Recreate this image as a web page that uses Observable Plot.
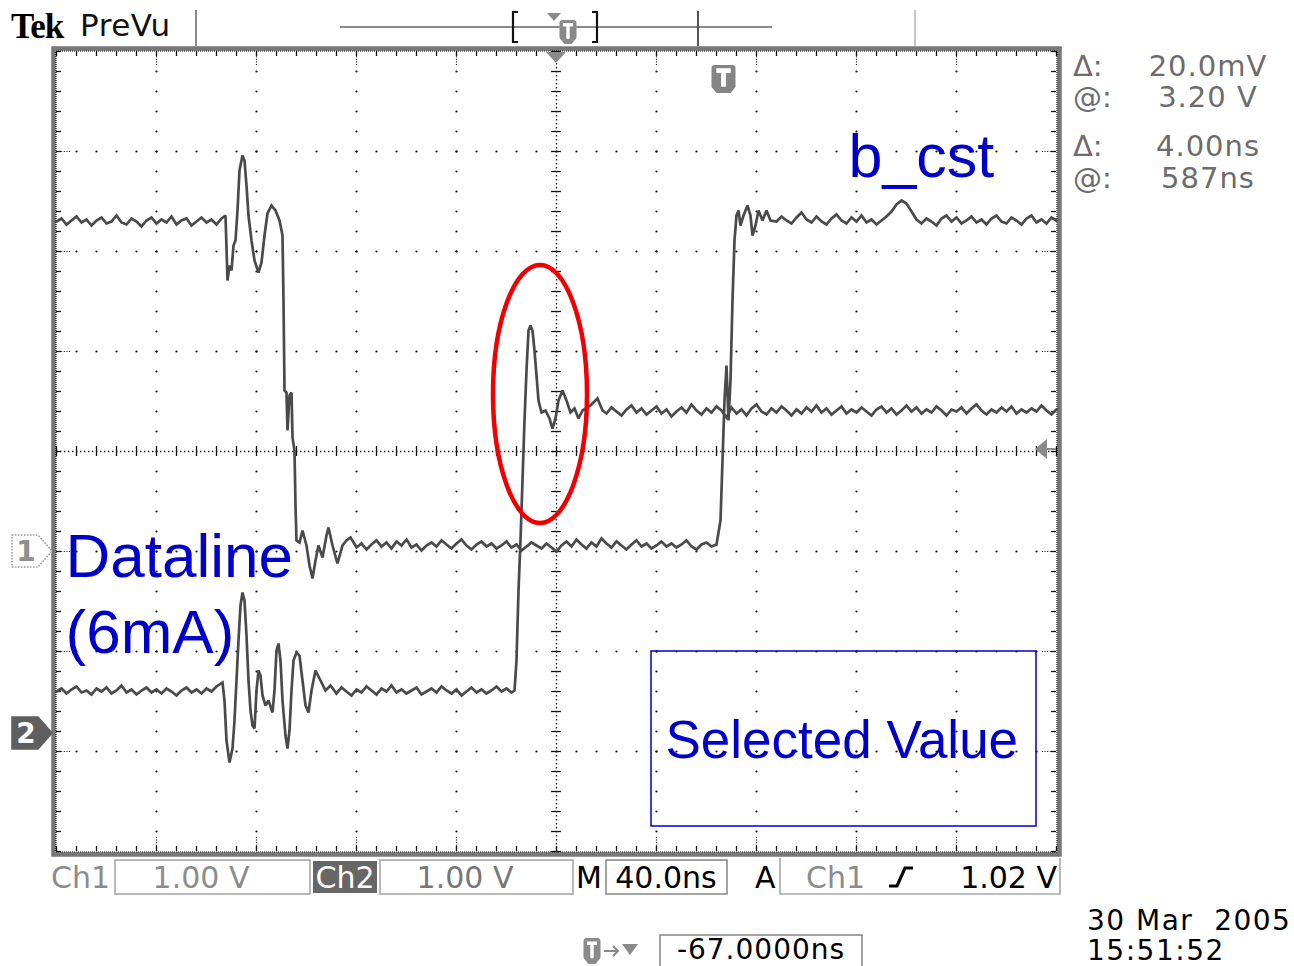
<!DOCTYPE html>
<html>
<head>
<meta charset="utf-8">
<script src="https://cdn.jsdelivr.net/npm/d3@7"></script>
<script src="https://cdn.jsdelivr.net/npm/@observablehq/plot@0.6"></script>
<style>
  html, body { margin: 0; padding: 0; background: #fff; overflow: hidden; }
  #scope { position: relative; width: 1294px; height: 966px; background: #fff; }
  #scope svg { position: absolute; left: 0; top: 0; }
</style>
</head>
<body>
<div id="scope"></div>
<script>
// ---- acquisition settings ----
const channels = ["Ch1", "Ch2"];
const voltsPerDiv = [1.00, 1.00];
const positionDiv = [-1.00, -2.82];      // ground marker offset from centre, in divisions
const timePerDivNs = 40;
const horizontalDivs = 10;
const verticalDivs = 8;
const triggerOffsetNs = -67.0;           // trigger point relative to screen centre
const triggerLevelV = 1.02;

// ---- readouts ----
const cursorReadouts = [["Δ:", "20.0mV"], ["@:", "3.20 V"], ["Δ:", "4.00ns"], ["@:", "587ns"]];
const scaleReadouts = ["1.00 V", "1.00 V", "40.0ns", "1.02 V"];
const timestamp = ["30 Mar  2005", "15:51:52"];

// ---- Ch1 trace (b_cst): [time ns, volts] ----
const ch1Trace = [
  [0,3.30],[2,3.33],[4,3.27],[6,3.31],[8,3.35],[10,3.29],[12,3.32],[14,3.26],[16,3.31],[18,3.34],
  [20,3.28],[22,3.30],[24,3.36],[26,3.29],[28,3.27],[30,3.33],[32,3.30],[34,3.25],[36,3.31],[38,3.34],
  [40,3.28],[42,3.32],[44,3.29],[46,3.35],[48,3.27],[50,3.31],[52,3.33],[54,3.26],[56,3.30],[58,3.34],
  [60,3.29],[62,3.32],[64,3.27],[66,3.33],
  [67.6,3.36],[68.4,2.71],[69.2,2.86],[70.0,2.81],[70.8,3.06],[71.6,3.11],[72.4,3.41],[73.2,3.81],
  [74.4,3.96],[75.2,3.91],[76.0,3.66],[76.8,3.36],[78.0,3.11],[79.2,2.91],[80.8,2.79],[82.0,2.89],
  [83.2,3.16],[84.4,3.38],[86.0,3.46],[87.6,3.41],[89.2,3.31],[90.4,3.16],[90.8,2.51],[91.2,1.61],
  [92.0,1.59],[92.4,1.21],[93.2,1.56],[94.0,1.59],[94.4,1.14],[95.2,1.01],[95.6,0.46],[96.0,0.11],
  [97.2,0.09],[98.4,0.21],[100.0,0.06],[101.2,-0.14],[102.4,-0.27],[103.6,-0.09],[104.8,0.06],
  [106.4,-0.06],[108.0,0.16],[108.8,0.24],[110.4,0.06],[112.4,-0.12],[114.4,0.06],[116.0,0.11],
  [117.6,0.14],[119.6,0.06],
  [120,0.04],[122,0.08],[124,0.02],[126,0.07],[128,0.11],[130,0.05],[132,0.09],[134,0.03],[136,0.10],
  [138,0.06],[140,0.12],[142,0.04],[144,0.07],[146,0.01],[148,0.06],[150,0.09],[152,0.05],[154,0.11],
  [156,0.07],[158,0.03],[160,0.08],[162,0.12],[164,0.06],[166,0.02],[168,0.07],[170,0.10],[172,0.05],
  [174,0.08],[176,0.03],[178,0.06],[180,0.10],[182,0.04],[184,0.07],[186,0.01],[188,0.05],[190,0.09],
  [192,0.06],[194,0.03],[196,0.08],[198,0.04],[200,0.00],[202,0.06],[204,0.10],[206,0.05],[208,0.12],
  [210,0.07],[212,0.03],[214,0.09],[216,0.05],[218,0.13],[220,0.08],[222,0.04],[224,0.10],[226,0.06],
  [228,0.02],[230,0.07],[232,0.11],[234,0.05],[236,0.08],[238,0.03],[240,0.06],[242,0.10],[244,0.05],
  [246,0.08],[248,0.04],[250,0.07],[252,0.11],[254,0.05],[256,0.02],[258,0.07],[260,0.09],[262,0.05],
  [264,0.07],
  [265.6,0.31],[266.4,0.91],[267.2,1.51],[268.0,1.86],[268.8,1.31],[269.6,1.71],[270.4,2.51],[271.2,3.11],
  [272.0,3.36],[272.8,3.41],[273.6,3.26],[274.8,3.36],[276.4,3.46],[277.6,3.36],[278.4,3.16],[279.6,3.26],
  [280.8,3.41],[282.4,3.31],[284.0,3.41],[285.6,3.31],
  [288,3.30],[290,3.35],[292,3.31],[294,3.28],[296,3.34],[298,3.39],[300,3.32],[302,3.29],[304,3.35],
  [306,3.30],[308,3.27],[310,3.33],[312,3.37],[314,3.31],[316,3.28],[318,3.34],[320,3.30],[322,3.36],
  [324,3.29],[326,3.32],[328,3.27],[330,3.31],[332,3.35],[334,3.40],[336,3.47],[338,3.51],[340,3.48],
  [342,3.40],[344,3.32],[346,3.28],[348,3.33],[350,3.30],[352,3.26],[354,3.33],[356,3.36],[358,3.30],
  [360,3.34],[362,3.28],[364,3.31],[366,3.35],[368,3.29],[370,3.32],[372,3.27],[374,3.33],[376,3.36],
  [378,3.30],[380,3.28],[382,3.34],[384,3.31],[386,3.27],[388,3.33],[390,3.36],[392,3.29],[394,3.32],
  [396,3.28],[398,3.34],[400,3.31]
];

// ---- Ch2 trace (Dataline, 6mA): [time ns, volts] ----
const ch2Trace = [
  [0,0.42],[2,0.45],[4,0.40],[6,0.44],[8,0.47],[10,0.41],[12,0.43],[14,0.39],[16,0.45],[18,0.42],
  [20,0.46],[22,0.40],[24,0.43],[26,0.48],[28,0.41],[30,0.44],[32,0.39],[34,0.43],[36,0.46],[38,0.41],
  [40,0.44],[42,0.40],[44,0.45],[46,0.42],[48,0.38],[50,0.43],[52,0.46],[54,0.41],[56,0.44],[58,0.40],
  [60,0.45],[62,0.42],[64,0.47],
  [66.4,0.51],[67.2,0.33],[68.0,-0.07],[69.2,-0.29],[70.4,-0.15],[71.2,0.13],[72.0,0.53],[72.8,0.93],
  [73.6,1.28],[74.4,1.41],[75.2,1.33],[76.0,0.98],[76.8,0.53],[77.6,0.23],[78.4,0.08],[79.2,0.05],
  [80.0,0.43],[80.8,0.63],[81.6,0.58],[82.4,0.38],[83.6,0.28],[84.8,0.33],[86.4,0.21],[87.2,0.43],
  [88.0,0.83],[88.8,0.90],[89.6,0.73],[90.4,0.33],[91.6,-0.02],[92.4,-0.15],[93.2,0.03],[94.0,0.43],
  [94.8,0.73],[96.0,0.81],[97.2,0.78],[98.4,0.53],[99.6,0.28],[100.8,0.21],[102.0,0.43],[103.6,0.63],
  [105.6,0.53],[107.6,0.43],[109.6,0.48],
  [112,0.40],[114,0.46],[116,0.42],[118,0.38],[120,0.44],[122,0.41],[124,0.47],[126,0.43],[128,0.39],
  [130,0.45],[132,0.42],[134,0.48],[136,0.41],[138,0.44],[140,0.40],[142,0.43],[144,0.46],[146,0.39],
  [148,0.42],[150,0.45],[152,0.41],[154,0.47],[156,0.43],[158,0.40],[160,0.44],[162,0.38],[164,0.42],
  [166,0.46],[168,0.41],[170,0.44],[172,0.40],[174,0.43],[176,0.47],[178,0.42],[180,0.45],[182,0.41],
  [183.2,0.43],[184.0,0.73],[184.8,1.43],[185.6,1.93],[186.4,2.53],[187.2,3.13],[188.0,3.63],[188.8,4.03],
  [189.6,4.08],[190.4,4.03],[191.2,3.83],[192.0,3.58],[192.8,3.33],[194.0,3.21],[195.6,3.23],[197.2,3.15],
  [198.4,3.05],[199.6,3.15],[200.8,3.33],[202.4,3.43],[204.0,3.33],[205.6,3.21],[207.2,3.25],[208.8,3.15],
  [210.4,3.23],[213.6,3.28],[216.4,3.35],[218.4,3.23],
  [220,3.20],[222,3.26],[224,3.22],[226,3.18],[228,3.24],[230,3.28],[232,3.21],[234,3.25],[236,3.19],
  [238,3.23],[240,3.27],[242,3.20],[244,3.24],[246,3.17],[248,3.22],[250,3.26],[252,3.21],[254,3.29],
  [256,3.23],[258,3.19],[260,3.25],[262,3.21],[264,3.27],[266,3.23],[268,3.16],[270,3.26],[272,3.20],
  [274,3.24],[276,3.18],[278,3.25],[280,3.29],[282,3.22],[284,3.19],[286,3.25],[288,3.21],[290,3.27],
  [292,3.23],[294,3.18],[296,3.24],[298,3.20],[300,3.26],[302,3.22],[304,3.28],[306,3.21],[308,3.25],
  [310,3.19],[312,3.23],[314,3.27],[316,3.20],[318,3.24],[320,3.21],[322,3.26],[324,3.22],[326,3.18],
  [328,3.24],[330,3.27],[332,3.21],[334,3.25],[336,3.19],[338,3.23],[340,3.28],[342,3.22],[344,3.26],
  [346,3.20],[348,3.24],[350,3.21],[352,3.27],[354,3.23],[356,3.18],[358,3.24],[360,3.22],[362,3.26],
  [364,3.20],[366,3.25],[368,3.29],[370,3.23],[372,3.19],[374,3.24],[376,3.21],[378,3.26],[380,3.22],
  [382,3.27],[384,3.20],[386,3.24],[388,3.21],[390,3.25],[392,3.22],[394,3.28],[396,3.23],[398,3.19],
  [400,3.24]
];

// ---- derived tables ----
const spanNs = timePerDivNs * horizontalDivs;
const centreNs = spanNs / 2;
const halfV = verticalDivs / 2;
const triggerNs = centreNs - triggerOffsetNs;

const rows = [ch1Trace, ch2Trace].flatMap((trace, i) =>
  trace.map(([t, v]) => ({channel: channels[i], t, div: v / voltsPerDiv[i] + positionDiv[i]}))
);

// graticule lattice
const minorX = d3.range(0, horizontalDivs * 5 + 1).map(i => i * timePerDivNs / 5);
const minorY = d3.range(0, verticalDivs * 5 + 1).map(i => -halfV + i / 5);
const majorX = d3.range(1, horizontalDivs).map(i => i * timePerDivNs).filter(t => t !== centreNs);
const majorY = d3.range(-halfV + 1, halfV).filter(d => d !== 0);
const gridDots = [
  ...majorX.flatMap(t => minorY.slice(1, -1).map(div => ({t, div}))),
  ...majorY.flatMap(div => minorX.slice(1, -1).map(t => ({t, div})))
];

const tick = 5 / 2.5;        // ns per ~5px at 40ns/div
const blue = "#0000c8";
const sans = "Liberation Sans, Arial, sans-serif";
const tekFont = "DejaVu Sans, Verdana, sans-serif";

const plot = Plot.plot({
  width: 1294,
  height: 966,
  marginLeft: 56,
  marginRight: 238,
  marginTop: 51,
  marginBottom: 115,
  x: {domain: [0, spanNs], axis: null},
  y: {domain: [-halfV, halfV], axis: null},
  style: {background: "#fff", overflow: "visible", fontFamily: tekFont},
  marks: [
    // frame: grey bezel plus dotted inner edge
    Plot.frame({stroke: "#777", strokeWidth: 4.5, inset: -3}),
    Plot.frame({stroke: "#111", strokeWidth: 1.2, strokeDasharray: "1 1", inset: -0.5}),
    // graticule dots
    Plot.dot(gridDots, {x: "t", y: "div", r: 1.1, fill: "#111"}),
    // centre cross, densely dotted, with minor ticks
    Plot.ruleX([centreNs], {stroke: "#111", strokeWidth: 1.3, strokeDasharray: "1.4 2.6"}),
    Plot.ruleY([0], {stroke: "#111", strokeWidth: 1.3, strokeDasharray: "1.4 2.6"}),
    Plot.ruleY(minorY, {x1: centreNs - tick, x2: centreNs + tick, stroke: "#111", strokeWidth: 1.3}),
    Plot.ruleX(minorX, {y1: -0.05, y2: 0.05, stroke: "#111", strokeWidth: 1.3}),
    // edge ticks
    Plot.ruleX(minorX, {y1: halfV, y2: halfV - 0.05, stroke: "#111", strokeWidth: 1.3}),
    Plot.ruleX(minorX, {y1: -halfV, y2: -halfV + 0.05, stroke: "#111", strokeWidth: 1.3}),
    Plot.ruleY(minorY, {x1: 0, x2: tick, stroke: "#111", strokeWidth: 1.3}),
    Plot.ruleY(minorY, {x1: spanNs, x2: spanNs - tick, stroke: "#111", strokeWidth: 1.3}),
    Plot.ruleX(majorX, {y1: halfV, y2: halfV - 0.14, stroke: "#111", strokeWidth: 1.2, strokeDasharray: "1 1.6"}),
    Plot.ruleX(majorX, {y1: -halfV, y2: -halfV + 0.14, stroke: "#111", strokeWidth: 1.2, strokeDasharray: "1 1.6"}),
    Plot.ruleY(majorY, {x1: 0, x2: 0.14 * timePerDivNs, stroke: "#111", strokeWidth: 1.2, strokeDasharray: "1 1.6"}),
    Plot.ruleY(majorY, {x1: spanNs, x2: spanNs - 0.14 * timePerDivNs, stroke: "#111", strokeWidth: 1.2, strokeDasharray: "1 1.6"}),
    // waveforms
    Plot.line(rows, {x: "t", y: "div", z: "channel", stroke: "#4a4a4a", strokeWidth: 2.7, strokeLinejoin: "miter", strokeMiterlimit: 2}),
    // annotations
    Plot.text(["b_cst"], {x: 316.8, y: 2.94, text: d => d, textAnchor: "start", fontSize: 61, fontFamily: sans, fill: blue}),
    Plot.text(["Dataline"], {x: 3.6, y: -1.06, text: d => d, textAnchor: "start", fontSize: 62, fontFamily: sans, fill: blue}),
    Plot.text(["(6mA)"], {x: 3.6, y: -1.82, text: d => d, textAnchor: "start", fontSize: 62, fontFamily: sans, fill: blue}),
    Plot.rect([0], {x1: 238, x2: 392, y1: -2.0, y2: -3.75, fill: "none", stroke: blue, strokeWidth: 1.5}),
    Plot.text(["Selected Value"], {x: 243.6, y: -2.9, text: d => d, textAnchor: "start", fontSize: 53, fontFamily: sans, fill: blue})
  ]
});

document.getElementById("scope").append(plot);

// ---- overlays positioned through the plot's scales ----
const sx = v => plot.scale("x").apply(v);
const sy = v => plot.scale("y").apply(v);
const svg = d3.select(plot);
const g = svg.append("g");

// highlight ellipse round the Ch2 overshoot
{
  const cx = sx(193.6), cy = sy(0.57);
  g.append("ellipse")
    .attr("cx", cx).attr("cy", cy)
    .attr("rx", sx(193.6 + 18.8) - cx).attr("ry", sy(0.57 - 1.29) - cy)
    .attr("fill", "none").attr("stroke", "#f00000").attr("stroke-width", 4.5);
}

// shield-shaped "T" badge
function badge(cx, top, w, h, fill) {
  const l = cx - w / 2, r = cx + w / 2, b = top + h;
  const bg = g.append("g");
  bg.append("path")
    .attr("d", `M${l},${top + 3}Q${l},${top} ${l + 3},${top}H${r - 3}Q${r},${top} ${r},${top + 3}V${b - 6}L${r - 5},${b}H${l + 5}L${l},${b - 6}Z`)
    .attr("fill", fill);
  bg.append("path")
    .attr("d", `M${cx - w * 0.3},${top + h * 0.2}H${cx + w * 0.3}M${cx},${top + h * 0.2}V${b - h * 0.22}`)
    .attr("stroke", "#fff").attr("stroke-width", Math.max(3, w * 0.2)).attr("fill", "none");
}

// trigger point badge and centre (expansion) marker
badge(sx(triggerNs), sy(halfV) + 14, 24, 28, "#858585");
{
  const x = sx(centreNs), y = sy(halfV);
  g.append("path").attr("d", `M${x - 10},${y + 1}L${x + 10},${y + 1}L${x},${y + 12}Z`).attr("fill", "#8a8a8a");
}
// trigger level arrow on the right edge
{
  const x = sx(spanNs), y = sy(positionDiv[0] + triggerLevelV / voltsPerDiv[0]);
  g.append("path").attr("d", `M${x - 21},${y}L${x - 9},${y - 10}L${x - 9},${y + 10}Z`).attr("fill", "#8a8a8a");
  g.append("line").attr("x1", x - 9).attr("x2", x).attr("y1", y).attr("y2", y).attr("stroke", "#8a8a8a").attr("stroke-width", 2);
}
// channel ground markers
channels.forEach((ch, i) => {
  const y = sy(positionDiv[i]);
  const filled = i === 1;
  g.append("path")
    .attr("d", `M12,${y - 16}H38L52,${y}L38,${y + 16}H12Z`)
    .attr("fill", filled ? "#5f5f5f" : "#fff")
    .attr("stroke", filled ? "#5f5f5f" : "#9a9a9a")
    .attr("stroke-width", 1.6)
    .attr("stroke-dasharray", filled ? null : "1.5 1.5");
  g.append("text").text(String(i + 1))
    .attr("x", 26).attr("y", y + 10).attr("text-anchor", "middle")
    .attr("font-family", tekFont).attr("font-size", 28).attr("font-weight", "bold")
    .attr("fill", filled ? "#fff" : "#8f8f8f");
});

// ---- header ----
function label(x, y, s, o = {}) {
  return g.append("text").text(s)
    .attr("x", x).attr("y", y)
    .attr("text-anchor", o.anchor || "start")
    .attr("font-family", o.family || tekFont)
    .attr("font-size", o.size || 30)
    .attr("font-weight", o.weight || "normal")
    .attr("letter-spacing", o.spacing || 0)
    .attr("fill", o.fill || "#000")
    .style("white-space", "pre");
}
function line(x1, y1, x2, y2, stroke, w) {
  g.append("line").attr("x1", x1).attr("y1", y1).attr("x2", x2).attr("y2", y2)
    .attr("stroke", stroke).attr("stroke-width", w);
}
label(11, 38, "Tek", {family: "Liberation Serif, serif", weight: "bold", size: 35, spacing: -1});
label(80, 36, "PreVu", {size: 31, fill: "#111", spacing: 0.5});
line(196, 10, 196, 46, "#8a8a8a", 2);
line(915, 10, 915, 46, "#c4c4c4", 2);
line(340, 27, 772, 27, "#8a8a8a", 2);
line(698, 11, 698, 46, "#555", 2);
g.append("path").attr("d", "M518,12H513V42H518M592,12H597V42H592").attr("fill", "none").attr("stroke", "#111").attr("stroke-width", 2.2);
g.append("path").attr("d", "M547,13L561,13L554,21Z").attr("fill", "#8a8a8a");
badge(568, 20, 17, 24, "#8a8a8a");

// ---- cursor readouts ----
cursorReadouts.forEach(([k, v], i) => {
  const y = [76, 107, 156, 188][i];
  label(1073, y, k, {size: 29, fill: "#6c6c6c"});
  label(1208, y, v, {size: 29, fill: "#6c6c6c", anchor: "middle", spacing: 1});
});

// ---- status bar ----
const boxStroke = "#a8a8a8";
function box(x, y, w, h, stroke) {
  g.append("rect").attr("x", x).attr("y", y).attr("width", w).attr("height", h)
    .attr("fill", "none").attr("stroke", stroke).attr("stroke-width", 1.6);
}
label(51, 888, "Ch1", {size: 30, fill: "#8c8c8c"});
box(115, 860, 195, 34, boxStroke);
label(201, 888, scaleReadouts[0], {size: 30, fill: "#8c8c8c", anchor: "middle"});
g.append("rect").attr("x", 313).attr("y", 861).attr("width", 64).attr("height", 32).attr("fill", "#666");
label(345, 888, "Ch2", {size: 30, fill: "#fff", anchor: "middle"});
box(380, 860, 193, 34, boxStroke);
label(465, 888, scaleReadouts[1], {size: 30, fill: "#777", anchor: "middle"});
label(576, 888, "M", {size: 30, fill: "#000"});
box(606, 860, 121, 34, "#8c8c8c");
label(666, 888, scaleReadouts[2], {size: 30, fill: "#000", anchor: "middle"});
label(755, 888, "A", {size: 30, fill: "#000"});
g.append("path").attr("d", "M780,858V894H1060V858").attr("fill", "none").attr("stroke", boxStroke).attr("stroke-width", 1.6);
label(806, 888, "Ch1", {size: 30, fill: "#8c8c8c"});
g.append("path").attr("d", "M889,886H897L905,868H913").attr("fill", "none").attr("stroke", "#000").attr("stroke-width", 3.2);
label(1057, 888, scaleReadouts[3], {size: 30, fill: "#000", anchor: "end"});

// trigger position row
badge(592, 938, 17, 26, "#8a8a8a");
g.append("path").attr("d", "M604,951H618M613,946L618,951L613,956").attr("fill", "none").attr("stroke", "#8a8a8a").attr("stroke-width", 2);
g.append("path").attr("d", "M622,944L638,944L630,955Z").attr("fill", "#8a8a8a");
box(660, 935, 202, 40, "#8c8c8c");
label(761, 959, `-${Math.abs(triggerOffsetNs).toFixed(4)}ns`, {size: 28, fill: "#000", anchor: "middle", spacing: 1});

// timestamp
label(1087, 930, timestamp[0], {size: 28, fill: "#000", spacing: 1.5});
label(1087, 960, timestamp[1], {size: 28, fill: "#000", spacing: 1.5});
</script>
</body>
</html>
